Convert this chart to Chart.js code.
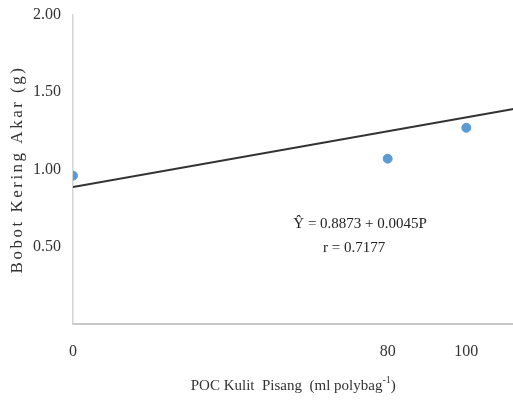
<!DOCTYPE html>
<html><head><meta charset="utf-8">
<script src="https://cdn.jsdelivr.net/npm/chart.js@4"></script>
<style>html,body{margin:0;padding:0;background:#fff;overflow:hidden;}canvas{display:block;}</style>
</head><body>
<canvas id="c" width="519" height="404"></canvas>
<script>
const doses = [0, 80, 100];
const rootWeight = [0.96, 1.07, 1.27];
const xTickValues = [0, 80, 100];
const yTickValues = [0.5, 1.0, 1.5, 2.0];
const trendX = [0, 112];
const trendY = [0.887, 1.391];
const equationText = 'Ŷ = 0.8873 + 0.0045P';
const rText = 'r = 0.7177';
const yTitle = 'Bobot Kering Akar (g)';
const xTitleMain = 'POC Kulit  Pisang  (ml polybag';
const xTitleSup = '-1';
const xTitleEnd = ')';

const FONT = '"Liberation Serif", "Times New Roman", serif';

const textPlugin = {
  id: 'texts',
  afterDraw(chart) {
    const ctx = chart.ctx, xs = chart.scales.x, ys = chart.scales.y, ca = chart.chartArea;
    ctx.save();
    ctx.fillStyle = '#222';
    ctx.font = '15px ' + FONT;
    ctx.textAlign = 'center';
    ctx.textBaseline = 'middle';
    ctx.fillText(equationText, xs.getPixelForValue(73), ys.getPixelForValue(0.65));
    ctx.fillText(rText, xs.getPixelForValue(71.5), ys.getPixelForValue(0.49));
    // y title
    ctx.save();
    ctx.translate(18, (ca.top + ca.bottom) / 2);
    ctx.rotate(-Math.PI / 2);
    ctx.font = '17px ' + FONT;
    ctx.letterSpacing = '2.5px';
    ctx.fillStyle = '#333';
    ctx.fillText(yTitle, 0, 0);
    ctx.restore();
    // x title with superscript
    const mainFont = '15px ' + FONT, supFont = '10px ' + FONT;
    ctx.fillStyle = '#333';
    ctx.textAlign = 'left';
    ctx.font = mainFont;
    const w1 = ctx.measureText(xTitleMain).width;
    const w3 = ctx.measureText(xTitleEnd).width;
    ctx.font = supFont;
    const w2 = ctx.measureText(xTitleSup).width;
    const total = w1 + w2 + w3;
    const x0 = (ca.left + ca.right) / 2 - total / 2;
    const yb = 386;
    ctx.font = mainFont;
    ctx.fillText(xTitleMain, x0, yb);
    ctx.fillText(xTitleEnd, x0 + w1 + w2, yb);
    ctx.font = supFont;
    ctx.fillText(xTitleSup, x0 + w1, yb - 6);
    ctx.restore();
  }
};

new Chart(document.getElementById('c'), {
  type: 'scatter',
  data: {
    datasets: [
      {
        type: 'line',
        data: trendX.map((x, i) => ({x, y: trendY[i]})),
        borderColor: '#333333',
        borderWidth: 2,
        pointRadius: 0,
        fill: false,
        order: 2
      },
      {
        data: doses.map((x, i) => ({x, y: rootWeight[i]})),
        backgroundColor: '#5b9bd5',
        borderColor: '#5b9bd5',
        pointRadius: 4.5,
        order: 1
      }
    ]
  },
  options: {
    responsive: false,
    animation: false,
    devicePixelRatio: 1,
    layout: { padding: { top: 15, right: 0, left: 0, bottom: 0 } },
    plugins: { legend: { display: false }, tooltip: { enabled: false } },
    scales: {
      x: {
        type: 'linear',
        min: 0, max: 112,
        afterBuildTicks(s) { s.ticks = xTickValues.map(v => ({value: v})); },
        afterFit(s) { s.height = 80; s.paddingLeft = 0; s.paddingRight = 0; },
        grid: { display: false },
        border: { display: true, color: '#c8c8c8', width: 2 },
        ticks: { padding: 10, color: '#333', font: { family: FONT, size: 16 } }
      },
      y: {
        min: 0, max: 2,
        afterBuildTicks(s) { s.ticks = yTickValues.map(v => ({value: v})); },
        afterFit(s) { s.width = 73; s.paddingTop = 0; s.paddingBottom = 0; },
        grid: { display: false },
        border: { display: true, color: '#d4d4d4', width: 1.5 },
        ticks: { padding: 4, color: '#333', font: { family: FONT, size: 16 },
          callback: v => v.toFixed(2) }
      }
    }
  },
  plugins: [textPlugin]
});
</script>
</body></html>
